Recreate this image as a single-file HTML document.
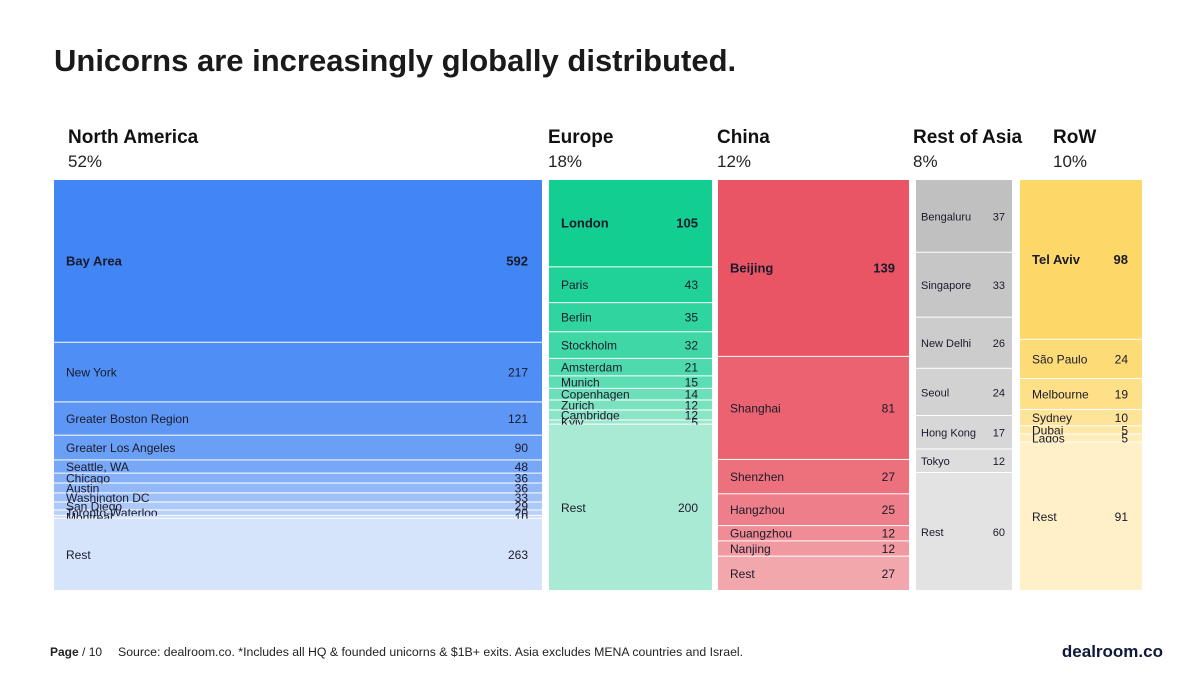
<!DOCTYPE html>
<html><head><meta charset="utf-8"><style>
body{margin:0;background:#fff;width:1200px;height:675px;overflow:hidden;font-family:"Liberation Sans",sans-serif}
svg{display:block}
</style></head><body>
<svg id="chart" width="1200" height="675">
<text x="54" y="71" font-size="31" font-weight="bold" fill="#1a1a1a">Unicorns are increasingly globally distributed.</text>
<text x="50" y="656" font-size="12" fill="#222"><tspan font-weight="bold">Page</tspan> / 10</text>
<text x="118" y="656" font-size="12.3" fill="#222">Source: dealroom.co.  *Includes all HQ  &amp; founded unicorns &amp; $1B+ exits. Asia excludes MENA countries and Israel.</text>
<text x="1163" y="657" font-size="17" font-weight="bold" fill="#0f1a3a" text-anchor="end">dealroom.co</text>
<g id="cols"></g>
</svg>
<script>
const regions = ["North America","Europe","China","Rest of Asia","RoW"];
const regionShares = ["52%","18%","12%","8%","10%"];
const naCities = ["Bay Area","New York","Greater Boston Region","Greater Los Angeles","Seattle, WA","Chicago","Austin","Washington DC","San Diego","Toronto-Waterloo","Montreal","Rest"];
const naValues = [592,217,121,90,48,36,36,33,29,20,10,263];
const euCities = ["London","Paris","Berlin","Stockholm","Amsterdam","Munich","Copenhagen","Zurich","Cambridge","Kyiv","Rest"];
const euValues = [105,43,35,32,21,15,14,12,12,5,200];
const cnCities = ["Beijing","Shanghai","Shenzhen","Hangzhou","Guangzhou","Nanjing","Rest"];
const cnValues = [139,81,27,25,12,12,27];
const asCities = ["Bengaluru","Singapore","New Delhi","Seoul","Hong Kong","Tokyo","Rest"];
const asValues = [37,33,26,24,17,12,60];
const rwCities = ["Tel Aviv","São Paulo","Melbourne","Sydney","Dubai","Lagos","Rest"];
const rwValues = [98,24,19,10,5,5,91];

const cityLists=[naCities,euCities,cnCities,asCities,rwCities];
const valueLists=[naValues,euValues,cnValues,asValues,rwValues];
const colX=[54,549,718,916,1020], colW=[488,163,191,96,122], headX=[68,548,717,913,1053];
const fontSz=[12,12,12,11,12], padX=[12,12,12,5,12];
const colTop=180, colBottom=591;
const cFrom=[[66,133,244],[18,207,145],[234,85,101],[192,192,192],[253,216,104]];
const cTo=[[213,227,251],[168,234,212],[242,167,173],[227,227,227],[255,240,200]];
const NS="http://www.w3.org/2000/svg";
const g=document.getElementById('cols');
function mk(tag,attrs,parent){const e=document.createElementNS(NS,tag);for(const k in attrs)e.setAttribute(k,attrs[k]);parent.appendChild(e);return e;}
function yScale(sum,cum){return colTop+(colBottom-colTop)*cum/sum;}
regions.forEach((r,i)=>{
  const cg=mk('g',{},g);
  
  
  const h=mk('text',{x:headX[i],y:143,'font-size':19,'font-weight':'bold',fill:'#111'},cg);
  h.textContent=r;
  
  
  const p=mk('text',{x:headX[i],y:167,'font-size':17,fill:'#222'},cg);
  p.textContent=regionShares[i];
  
  
  const vals=valueLists[i], cities=cityLists[i];
  const sum=vals.reduce((a,b)=>a+b,0);
  let cum=0;
  vals.forEach((v,j)=>{
    const y0=yScale(sum,cum), y1=yScale(sum,cum+v); cum+=v;
    const t=vals.length>1?j/(vals.length-1):0;
    const c=cFrom[i].map((a,k)=>Math.round(a+(cTo[i][k]-a)*t));
    const rc=mk('rect',{x:colX[i],y:y0,width:colW[i],height:Math.max(0,y1-y0-1),fill:`rgb(${c})`},cg);
    
    
    const ym=(y0+y1)/2+4;
    const bold=j===0 && i!==3;
    const fs=bold?13:fontSz[i];
    const lt=mk('text',{x:colX[i]+padX[i],y:ym,'font-size':fs,'font-weight':bold?'bold':'normal',fill:'#1a1a2a'},cg);
    lt.textContent=cities[j];
    
    
    const vt=mk('text',{x:colX[i]+colW[i]-padX[i]-2,y:ym,'font-size':fs,'font-weight':bold?'bold':'normal',fill:'#1a1a2a','text-anchor':'end'},cg);
    vt.textContent=v;
    
    
  });
});
</script>
</body></html>
